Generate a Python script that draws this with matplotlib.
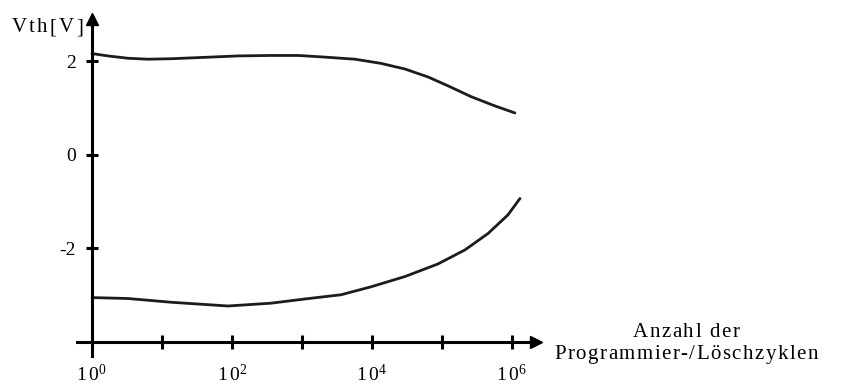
import numpy as np
import matplotlib
matplotlib.use("Agg")
import matplotlib.pyplot as plt
from matplotlib.ticker import NullFormatter

plt.rcParams["font.family"] = ["Liberation Serif", "DejaVu Serif"]
plt.rcParams["mathtext.fontset"] = "custom"
plt.rcParams["mathtext.rm"] = "Liberation Serif"

# threshold voltage of programmed cell vs. program/erase cycles
prog_cycles = [1, 1.69, 3.27, 6.3, 13.5, 41, 122, 361, 877, 1870, 5710,
               13500, 29600, 63100, 122000, 259000, 571000, 1.1e6]
prog_vth = [2.16, 2.11, 2.06, 2.04, 2.05, 2.08, 2.11, 2.12, 2.12, 2.09, 2.04,
            1.95, 1.83, 1.66, 1.47, 1.24, 1.04, 0.89]

# threshold voltage of erased cell
erase_cycles = [1, 3.27, 13.5, 87.7, 361, 1100, 3610, 9680, 29600, 87700,
                213000, 454000, 877000, 1.3e6]
erase_vth = [-3.06, -3.08, -3.16, -3.24, -3.18, -3.09, -3.00, -2.83, -2.61,
             -2.34, -2.04, -1.69, -1.29, -0.94]

xticks = [1e0, 1e2, 1e4, 1e6]
xticklabels = [r"$\mathregular{1\,0^{0}}$", r"$\mathregular{1\,0^{2}}$",
               r"$\mathregular{1\,0^{4}}$", r"$\mathregular{1\,0^{6}}$"]
xminor = [1e1, 1e3, 1e5]
yticks = [-2, 0, 2]
yticklabels = ["-2", "0", "2"]

W, H = 853, 385
fig = plt.figure(figsize=(W / 100, H / 100), dpi=100)
ax = fig.add_axes([77 / W, 1 - 356 / H, (536 - 77) / W, (356 - 19) / H])

ink = "#1c1c1c"
ax.plot(prog_cycles, prog_vth, color=ink, lw=2.0, solid_capstyle="round",
        solid_joinstyle="round")
ax.plot(erase_cycles, erase_vth, color=ink, lw=2.0, solid_capstyle="round",
        solid_joinstyle="round")

ax.set_xscale("log")
ax.set_xlim(10 ** -0.214, 10 ** 6.343)
ax.set_ylim(-4.31, 2.90)

# axes cross at (1, -4)
for side in ("top", "right"):
    ax.spines[side].set_visible(False)
ax.spines["left"].set_position(("data", 1))
ax.spines["bottom"].set_position(("data", -4))
for side in ("left", "bottom"):
    ax.spines[side].set_linewidth(2.2)

ax.set_xticks(xticks)
ax.set_xticklabels(xticklabels)
ax.set_xticks(xminor, minor=True)
ax.xaxis.set_minor_formatter(NullFormatter())
ax.set_yticks(yticks)
ax.set_yticklabels(yticklabels)
ax.tick_params(axis="x", which="both", direction="inout", length=10, width=2.2,
               labelsize=14, pad=11)
ax.tick_params(axis="y", direction="inout", length=9, width=2.2, labelsize=14, pad=7)

# arrow heads at the axis ends
ax.plot(1, 1, marker="^", ms=9, color="black", transform=ax.get_xaxis_transform(),
        clip_on=False)
ax.plot(1, -4, marker=">", ms=9, color="black", transform=ax.get_yaxis_transform(),
        clip_on=False)


def tracked_text(cx, base_y, s, size=15, track=1.6):
    """Draw s centred at cx (pixels) on baseline base_y (pixels from top),
    with extra letter spacing of `track` pixels."""
    r = fig.canvas.get_renderer()

    def width(t):
        a = fig.text(0, 0, t + "|", fontsize=size)
        w = a.get_window_extent(r).width
        a.remove()
        return w

    bar = width("")
    offs = [width(s[:i]) - bar + i * track for i in range(len(s))]
    total = width(s) - bar + (len(s) - 1) * track
    x0 = cx - total / 2
    for ch, o in zip(s, offs):
        if ch.strip():
            fig.text((x0 + o) / W, 1 - base_y / H, ch, fontsize=size,
                     ha="left", va="baseline")


tracked_text(47, 32, "Vth[V]", size=15, track=2.2)
tracked_text(686, 337, "Anzahl der", size=15, track=1.6)
tracked_text(686, 359, "Programmier-/Löschzyklen", size=15, track=1.5)

fig.savefig("out.png", dpi=100)
